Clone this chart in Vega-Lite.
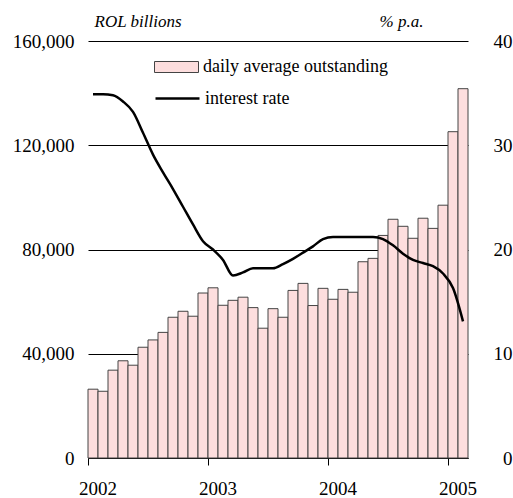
{
  "$schema": "https://vega.github.io/schema/vega-lite/v6.json",
  "width": 380,
  "height": 417,
  "autosize": {"type": "none"},
  "padding": {"left": 88, "top": 41, "right": 45, "bottom": 40},
  "background": "white",
  "config": {
    "font": "Liberation Serif, Times New Roman, DejaVu Serif, serif",
    "view": {"stroke": null},
    "axis": {"labelColor": "black", "titleColor": "black", "labelFont": "Liberation Serif, Times New Roman, DejaVu Serif, serif", "titleFont": "Liberation Serif, Times New Roman, DejaVu Serif, serif"},
    "legend": {"labelColor": "black", "labelFont": "Liberation Serif, Times New Roman, DejaVu Serif, serif"}
  },
  "data": {
    "values": [
      {"month": "2002-01", "outstanding": 26400, "rate": 34.9},
      {"month": "2002-02", "outstanding": 25600, "rate": 34.9},
      {"month": "2002-03", "outstanding": 33700, "rate": 34.8},
      {"month": "2002-04", "outstanding": 37300, "rate": 34.2},
      {"month": "2002-05", "outstanding": 35600, "rate": 33.2},
      {"month": "2002-06", "outstanding": 42500, "rate": 31.2},
      {"month": "2002-07", "outstanding": 45300, "rate": 29.1},
      {"month": "2002-08", "outstanding": 48200, "rate": 27.4},
      {"month": "2002-09", "outstanding": 54000, "rate": 25.8},
      {"month": "2002-10", "outstanding": 56300, "rate": 24.1},
      {"month": "2002-11", "outstanding": 54400, "rate": 22.4},
      {"month": "2002-12", "outstanding": 63300, "rate": 20.8},
      {"month": "2003-01", "outstanding": 65300, "rate": 20.0},
      {"month": "2003-02", "outstanding": 58600, "rate": 19.0},
      {"month": "2003-03", "outstanding": 60500, "rate": 17.5},
      {"month": "2003-04", "outstanding": 61700, "rate": 17.8},
      {"month": "2003-05", "outstanding": 57700, "rate": 18.2},
      {"month": "2003-06", "outstanding": 49800, "rate": 18.2},
      {"month": "2003-07", "outstanding": 57300, "rate": 18.2},
      {"month": "2003-08", "outstanding": 54000, "rate": 18.6},
      {"month": "2003-09", "outstanding": 64300, "rate": 19.1},
      {"month": "2003-10", "outstanding": 67000, "rate": 19.7},
      {"month": "2003-11", "outstanding": 58500, "rate": 20.3},
      {"month": "2003-12", "outstanding": 65100, "rate": 21.0},
      {"month": "2004-01", "outstanding": 60900, "rate": 21.2},
      {"month": "2004-02", "outstanding": 64700, "rate": 21.2},
      {"month": "2004-03", "outstanding": 63600, "rate": 21.2},
      {"month": "2004-04", "outstanding": 75300, "rate": 21.2},
      {"month": "2004-05", "outstanding": 76600, "rate": 21.2},
      {"month": "2004-06", "outstanding": 85400, "rate": 21.0},
      {"month": "2004-07", "outstanding": 91600, "rate": 20.4},
      {"month": "2004-08", "outstanding": 88900, "rate": 19.6},
      {"month": "2004-09", "outstanding": 84300, "rate": 19.0},
      {"month": "2004-10", "outstanding": 92000, "rate": 18.7},
      {"month": "2004-11", "outstanding": 88100, "rate": 18.4},
      {"month": "2004-12", "outstanding": 97000, "rate": 17.7},
      {"month": "2005-01", "outstanding": 125200, "rate": 16.3},
      {"month": "2005-02", "outstanding": 141700, "rate": 13.1}
    ]
  },
  "layer": [
    {
      "mark": {"type": "bar", "stroke": "#444444", "strokeWidth": 1},
      "encoding": {
        "x": {
          "field": "month",
          "type": "ordinal",
          "scale": {"paddingInner": 0, "paddingOuter": 0},
          "axis": {
            "values": ["2002-01", "2003-01", "2004-01", "2005-01"],
            "bandPosition": 0,
            "labelExpr": "slice(datum.label, 0, 4)",
            "labelAngle": 0,
            "labelOffset": 5,
            "labelFont": "Liberation Serif, Times New Roman, DejaVu Serif, serif",
            "labelFontSize": 19,
            "labelPadding": 14,
            "title": null,
            "domainColor": "black",
            "tickColor": "black",
            "tickSize": 7,
            "grid": false
          }
        },
        "y": {
          "field": "outstanding",
          "type": "quantitative",
          "scale": {"domain": [0, 160000]},
          "axis": {
            "orient": "left",
            "values": [0, 40000, 80000, 120000, 160000],
            "format": ",.0f",
            "grid": true,
            "gridColor": "black",
            "gridWidth": 1,
            "gridOpacity": 1,
            "domain": false,
            "ticks": false,
            "tickSize": 0,
            "labelPadding": 14,
            "labelFont": "Liberation Serif, Times New Roman, DejaVu Serif, serif",
            "labelFontSize": 19,
            "title": "ROL billions",
            "titleFont": "Liberation Serif, Times New Roman, DejaVu Serif, serif",
            "titleAngle": 0,
            "titleAlign": "left",
            "titleBaseline": "alphabetic",
            "titleX": 6,
            "titleY": -15,
            "titleFontStyle": "italic",
            "titleFontWeight": "normal",
            "titleFontSize": 17
          }
        },
        "fill": {
          "datum": "daily average outstanding",
          "scale": {"range": ["#fddede"]},
          "legend": {
            "orient": "none",
            "legendX": 66,
            "legendY": 3.5,
            "title": null,
            "padding": 0,
            "symbolType": "M-1,-0.25H1V0.25H-1Z",
            "symbolSize": 1936,
            "symbolStrokeColor": "#444444",
            "symbolStrokeWidth": 1,
            "labelFont": "Liberation Serif, Times New Roman, DejaVu Serif, serif",
            "labelFontSize": 18,
            "labelOffset": 4,
            "labelLimit": 400
          }
        }
      }
    },
    {
      "mark": {"type": "line", "strokeWidth": 2.5, "interpolate": "monotone"},
      "encoding": {
        "x": {"field": "month", "type": "ordinal"},
        "y": {
          "field": "rate",
          "type": "quantitative",
          "scale": {"domain": [0, 40]},
          "axis": {
            "orient": "right",
            "values": [0, 10, 20, 30, 40],
            "grid": false,
            "domain": false,
            "ticks": false,
            "tickSize": 0,
            "labelAlign": "right",
            "labelPadding": 44,
            "labelFont": "Liberation Serif, Times New Roman, DejaVu Serif, serif",
            "labelFontSize": 19,
            "title": "% p.a.",
            "titleFont": "Liberation Serif, Times New Roman, DejaVu Serif, serif",
            "titleAngle": 0,
            "titleAlign": "right",
            "titleBaseline": "alphabetic",
            "titleX": -45,
            "titleY": -15,
            "titleFontStyle": "italic",
            "titleFontWeight": "normal",
            "titleFontSize": 17
          }
        },
        "stroke": {
          "datum": "interest rate",
          "scale": {"range": ["black"]},
          "legend": {
            "orient": "none",
            "legendX": 66,
            "legendY": 34,
            "title": null,
            "padding": 0,
            "symbolType": "M-1,0H1",
            "symbolSize": 1936,
            "symbolStrokeWidth": 2.5,
            "labelFont": "Liberation Serif, Times New Roman, DejaVu Serif, serif",
            "labelFontSize": 18,
            "labelOffset": 4,
            "labelLimit": 400
          }
        }
      }
    }
  ],
  "resolve": {"scale": {"y": "independent", "fill": "independent", "stroke": "independent"}}
}
